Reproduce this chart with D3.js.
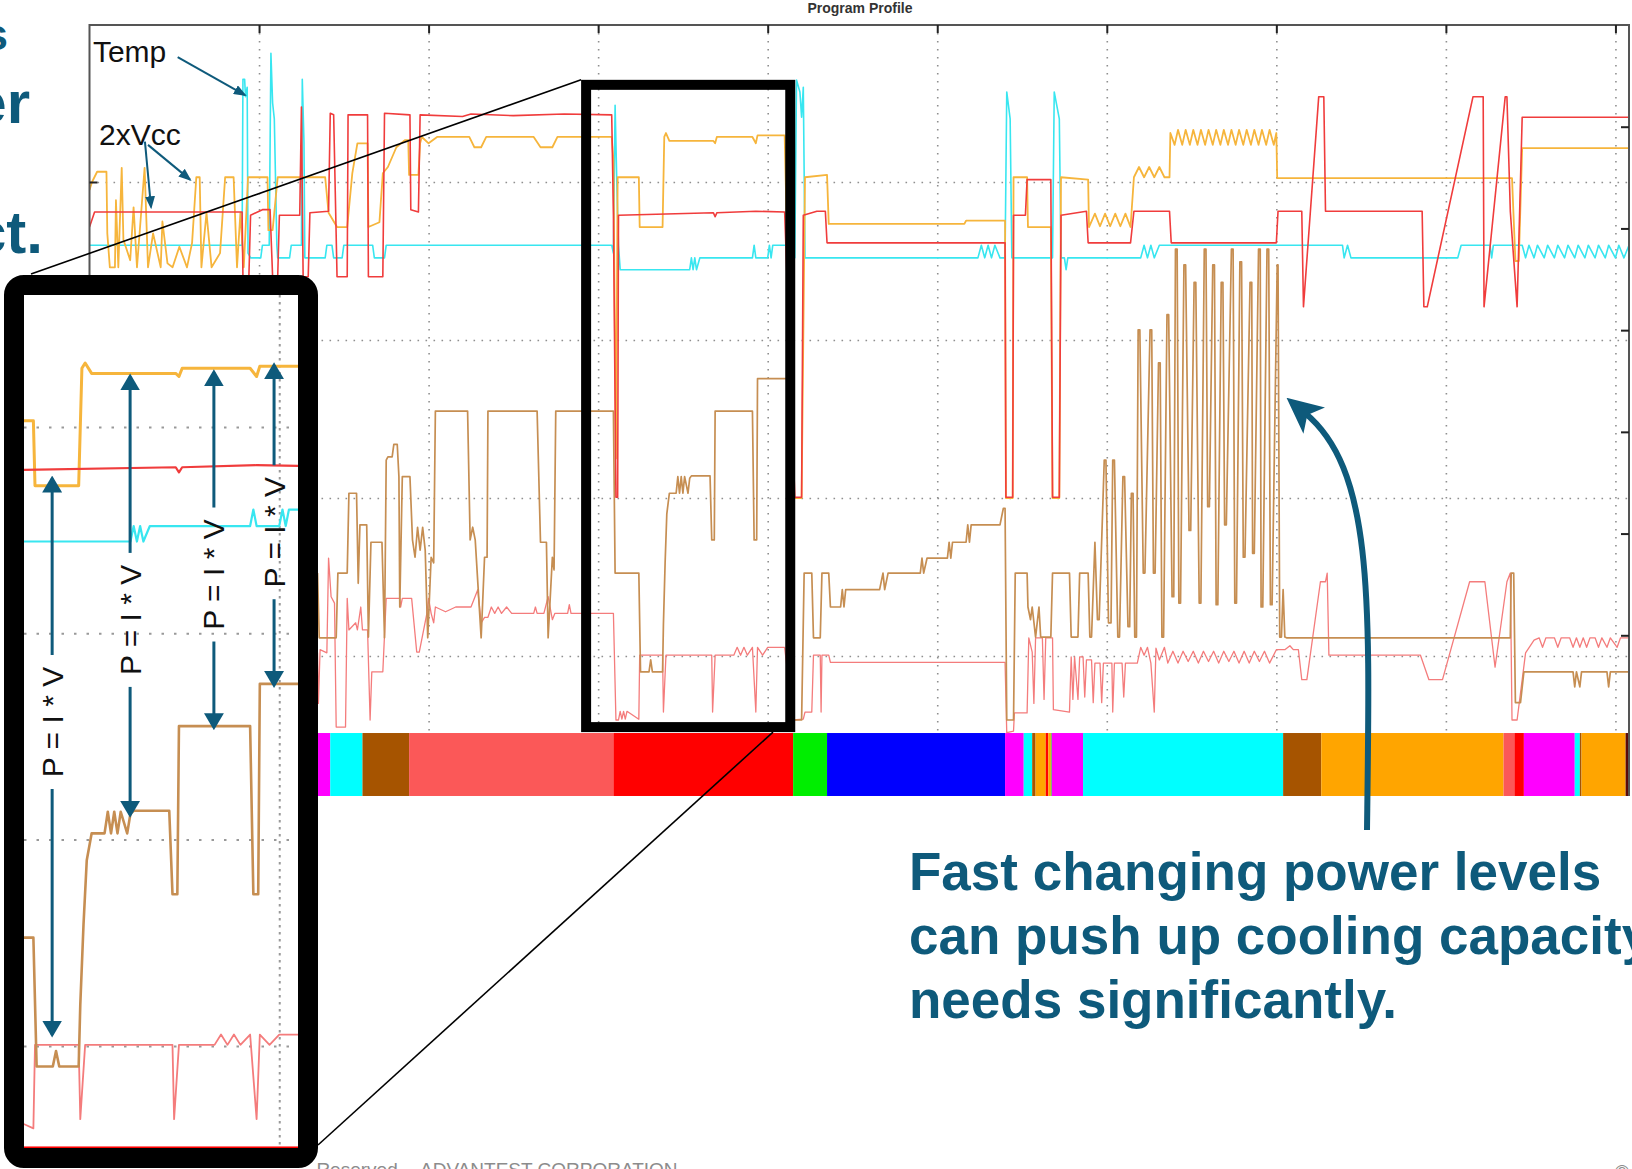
<!DOCTYPE html>
<html><head><meta charset="utf-8">
<script src="https://cdn.jsdelivr.net/npm/d3@7"></script>
<style>
html,body{margin:0;padding:0;background:#fff;overflow:hidden}
svg{display:block}
</style></head>
<body><svg id="chart" width="1632" height="1169"></svg>
<script>
// ---------------- DATA (x: time units, grid every 10; y: level units, grid every 20) ----------------
const xGrid = [10,20,30,40,50,60,70,80,90];
const yGrid = [20,40,60,80];
const rightTicks = [1,2,3,4,5,6];

// Temperature (cyan)
const tempSeries = [[0,72],[9.0,72],[9.05,93],[9.15,93],[9.2,90.8],[9.3,92],[9.35,71],[9.5,70.4],[10.1,70.4],[10.2,72],[10.6,72],[10.7,96.3],[10.8,90],[10.9,88],[11.05,72],[11.1,70.4],[11.8,70.4],[11.9,72],[12.5,72],[12.55,93],[12.65,85],[12.7,70.4],[13.9,70.4],[14.0,72],[14.3,72],[14.4,70.4],[14.9,70.4],[15.0,72],[16.7,72],[16.8,70.4],[17.4,70.4],[17.5,72],[30.8,72],[30.9,71],[31.0,89.7],[31.1,80],[31.2,72],[31.3,68.9],[35.4,68.9],[35.5,70.4],[35.6,68.9],[35.7,70.4],[35.8,68.9],[36.0,70.4],[39.1,70.4],[39.2,72],[39.3,70.4],[40.0,70.4],[40.1,72],[40.2,70.4],[40.3,72],[41.5,72],[41.6,70.4],[41.7,92.9],[41.9,91.4],[42.0,88.2],[42.1,92],[42.2,70.4],[52.4,70.4],[52.6,72],[52.8,70.4],[53.0,72],[53.2,70.4],[53.4,72],[53.7,70.4],[54.0,70.4],[54.1,91.4],[54.3,88],[54.4,70.4],[56.8,70.4],[56.9,91.4],[57.2,88],[57.3,70.4],[57.5,70.4],[57.6,68.9],[57.7,70.4],[62.0,70.4],[62.2,72],[62.4,70.4],[62.6,72],[62.8,70.4],[63.1,72],[73.9,72],[74.0,70.4],[74.2,72],[74.4,70.4],[80.7,70.4],[80.9,72],[82.6,72],[82.7,70.4],[82.8,72],[84.5,72],[84.7,70.4],[84.9,72],[85.2,70.4],[85.4,72],[85.8,70.4],[86.0,72],[86.4,70.4],[86.6,72],[87.0,70.4],[87.2,72],[87.6,70.4],[87.8,72],[88.2,70.4],[88.4,72],[88.8,70.4],[89.0,72],[89.4,70.4],[89.6,72],[90.0,70.4],[90.2,72],[90.5,70.4],[90.8,72]];

// 2xVcc supply A (orange)
const vccASeries = [[0,79],[0.15,80],[0.45,81.3],[1.0,81.3],[1.05,73.5],[1.2,69.2],[1.5,69.2],[1.56,77.7],[1.7,69.2],[1.9,81.8],[2.0,72.7],[2.4,70.1],[2.6,76.8],[2.8,69.2],[3.25,81.8],[3.45,69.2],[3.75,73.5],[4.2,69.2],[4.3,75],[4.6,69.7],[4.9,69.2],[5.3,71.8],[5.75,69.2],[6.05,72.3],[6.3,80.6],[6.5,80.6],[6.6,69.2],[6.9,76.1],[7.2,69.2],[7.7,71],[8.0,80.6],[8.5,80.6],[8.7,69.2],[8.9,76.1],[9.1,69.2],[9.35,80.6],[10.5,80.6],[10.55,73.9],[10.8,73.9],[11.1,80.6],[13.9,80.6],[14.1,76.1],[14.6,74.3],[15.2,74.3],[15.5,81.1],[15.8,84.9],[16.4,84.9],[16.45,74.3],[17.1,74.9],[17.3,81.1],[17.6,81.9],[18.1,84.4],[18.6,85.3],[18.8,85.3],[18.85,80.9],[19.4,80.9],[19.5,84.9],[19.6,85.7],[20.0,84.9],[20.5,85.7],[22.4,85.7],[22.7,84.4],[23.1,84.4],[23.4,85.7],[26.2,85.7],[26.6,84.4],[27.3,84.4],[27.6,85.7],[30.8,85.7],[30.9,82.8],[31.05,45],[31.15,80.6],[32.4,80.6],[32.45,74.3],[33.8,74.3],[33.9,85.7],[34.0,86.2],[34.2,85.2],[36.8,85.2],[36.9,84.9],[37.0,85.7],[39.1,85.7],[39.3,84.9],[39.4,85.9],[41.0,85.9],[41.5,40],[42.0,40],[42.2,80.6],[43.5,80.9],[43.6,74.7],[51.6,74.7],[51.7,75.1],[54.0,75.1],[54.05,40],[54.45,40],[54.5,80.6],[55.3,80.6],[55.35,74.3],[56.7,74.3],[56.8,40],[57.2,40],[57.3,80.6],[58.9,80.3],[58.95,74.3],[59.3,76],[59.6,74.4],[59.9,76],[60.2,74.4],[60.5,76],[60.8,74.4],[61.1,76],[61.4,74.3],[61.6,80.6],[61.9,81.9],[62.2,80.6],[62.5,81.9],[62.8,80.6],[63.1,81.9],[63.4,80.6],[63.7,80.6],[63.75,86.2],[64.0,84.7],[64.2,86.6],[64.45,84.7],[64.65,86.6],[64.9,84.7],[65.1,86.6],[65.35,84.7],[65.55,86.6],[65.8,84.7],[66.0,86.6],[66.25,84.7],[66.45,86.6],[66.7,84.7],[66.9,86.6],[67.15,84.7],[67.35,86.6],[67.6,84.7],[67.8,86.6],[68.05,84.7],[68.25,86.6],[68.5,84.7],[68.7,86.6],[68.95,84.7],[69.15,86.6],[69.4,84.7],[69.6,86.6],[69.85,84.7],[70.0,86.2],[70.05,80.5],[83.9,80.5],[84.1,70],[84.3,70],[84.5,84.3],[90.8,84.3]];

// 2xVcc supply B (red)
const vccBSeries = [[0,74.3],[0.3,76.2],[9.0,76.2],[9.05,68],[9.4,68],[9.5,75.8],[10.2,76.5],[10.65,76.5],[10.8,68],[11.1,68],[11.2,75.8],[12.4,75.8],[12.5,89.5],[12.6,68],[12.9,68],[13.0,76.1],[14.1,76.3],[14.2,88.7],[14.4,88.5],[14.6,68],[15.2,68],[15.25,88.5],[16.4,88.5],[16.45,68],[17.3,68],[17.4,88.7],[18.9,88.5],[18.95,76.5],[19.4,76.2],[19.5,88.5],[22.0,88.3],[22.5,88.6],[25.0,88.4],[28.0,88.6],[30.8,88.5],[30.9,76],[31.05,40.1],[31.15,40.1],[31.2,75.8],[36.8,76.1],[36.9,75.6],[37.0,76.1],[39.3,76.3],[41.0,76.2],[41.6,40.1],[42.0,40.1],[42.1,75.8],[42.9,76.3],[43.4,76.3],[43.5,72.3],[54.0,72.3],[54.05,40.1],[54.45,40.1],[54.5,75.8],[55.2,75.8],[55.3,80.3],[56.7,80.3],[56.8,40.1],[57.2,40.1],[57.3,75.8],[58.8,76.3],[58.9,72.3],[61.4,72.3],[61.6,76.3],[63.7,76.3],[63.8,72.3],[70.0,72.3],[70.1,76.3],[71.5,76.3],[71.6,64.2],[72.5,90.8],[72.8,90.8],[72.9,76.3],[78.6,76.3],[78.7,64.2],[78.9,64.2],[81.6,90.8],[82.2,90.8],[82.25,64.2],[83.5,90.8],[83.6,90.8],[83.8,76.3],[84.2,64.2],[84.5,88.2],[90.8,88.2]];

// Power (brown)
const powerSeries = [[13.45,30.5],[13.55,22.3],[14.55,22.3],[14.65,30.5],[15.2,30.5],[15.3,40.6],[15.75,40.6],[15.85,29.2],[15.95,36.6],[16.35,36.6],[16.45,22.4],[16.6,34.4],[17.25,34.4],[17.4,22.3],[17.5,44.8],[17.6,45.2],[17.85,45.2],[17.95,46.8],[18.15,46.8],[18.25,42.7],[18.3,26.2],[18.45,42.7],[18.9,42.7],[19.05,34.7],[19.2,32.5],[19.35,36.3],[19.5,33.4],[19.65,36.3],[19.8,33.4],[19.95,22.3],[20.15,32.5],[20.3,31.8],[20.4,51],[22.3,51],[22.45,34.7],[22.6,36.3],[22.75,34.7],[23.1,22.3],[23.3,32.5],[23.45,32.5],[23.5,51],[26.4,51],[26.6,34.4],[26.95,34.4],[27.05,22.3],[27.3,32.5],[27.4,30.9],[27.5,51],[30.9,51],[31.0,30.5],[32.4,30.5],[32.5,18],[33.0,18],[33.1,19.5],[33.2,18],[33.8,18],[33.85,24],[33.95,31.8],[34.05,38],[34.2,40.6],[34.6,40.6],[34.7,42.7],[34.8,40.6],[34.9,42.7],[35.0,40.6],[35.1,42.7],[35.3,40.6],[35.4,42.5],[35.5,42.8],[36.6,42.8],[36.7,34.7],[36.85,34.7],[36.9,51],[39.1,51],[39.2,34.7],[39.35,34.7],[39.4,55.1],[41.2,55.1],[41.5,11.9],[42.0,11.9],[42.15,30.5],[42.6,30.5],[42.7,22.3],[43.1,22.3],[43.2,30.5],[43.6,30.5],[43.7,26.2],[44.3,26.2],[44.4,28.4],[44.5,26.2],[44.6,28.4],[46.6,28.4],[46.8,30.5],[46.9,28.4],[47.1,30.5],[49.0,30.5],[49.1,32.4],[49.2,30.5],[49.4,32.4],[50.6,32.4],[50.7,34.4],[50.8,32.4],[50.9,34.4],[51.7,34.4],[51.8,36.6],[51.9,34.4],[52.0,36.6],[53.7,36.6],[53.9,38.7],[54.0,38.7],[54.1,11.9],[54.5,11.9],[54.6,30.5],[55.3,30.5],[55.35,26.2],[55.5,24.6],[55.6,26.2],[55.8,22.4],[56.0,26.2],[56.1,22.4],[56.7,22.4],[56.8,30.5],[57.8,30.5],[57.9,22.4],[58.3,22.4],[58.4,30.5],[58.9,30.5],[59.0,22.4],[59.1,22.4],[59.3,34.4],[59.45,24.6],[59.55,24.6],[59.85,44.8],[59.95,44.8],[60.1,24.2],[60.25,24.2],[60.35,44.8],[60.45,44.8],[60.65,22.4],[60.75,22.4],[60.95,42.7],[61.05,42.7],[61.25,23.7],[61.35,23.7],[61.45,40.6],[61.55,40.6],[61.65,22.4],[61.75,22.4],[61.85,61.3],[61.95,61.3],[62.15,30.5],[62.25,30.5],[62.55,61.3],[62.65,61.3],[62.75,30.5],[62.85,30.5],[63.05,57.1],[63.15,57.1],[63.25,22.4],[63.35,22.4],[63.55,63.2],[63.65,63.2],[63.85,27.5],[63.95,27.5],[64.05,71.5],[64.15,71.5],[64.25,26.7],[64.35,26.7],[64.55,69.5],[64.65,69.5],[64.85,35.9],[64.95,35.9],[65.15,67.3],[65.25,67.3],[65.45,26.7],[65.55,26.7],[65.75,71.5],[65.85,71.5],[65.95,38.9],[66.05,38.9],[66.25,69.5],[66.35,69.5],[66.45,26.5],[66.55,26.5],[66.75,67.3],[66.85,67.3],[66.95,36.6],[67.05,36.6],[67.35,71.5],[67.45,71.5],[67.55,26.7],[67.65,26.7],[67.85,69.9],[67.95,69.9],[68.05,32.5],[68.15,32.5],[68.45,67.3],[68.55,67.3],[68.6,33],[68.7,33],[68.95,71.5],[69.05,71.5],[69.1,26.2],[69.2,26.2],[69.45,71.5],[69.55,71.5],[69.65,26.5],[69.75,26.5],[70.05,69.5],[70.1,69.5],[70.2,22.4],[70.3,22.4],[70.4,28.4],[70.5,22.4],[70.6,22.3],[83.8,22.3],[83.85,30.5],[84.0,30.5],[84.1,14.1],[84.4,14.1],[84.6,18],[87.5,18],[87.6,16.1],[87.7,18],[87.9,16.1],[88.0,18],[89.5,18],[89.6,16.1],[89.7,18],[90.8,18]];

// Current (light red)
const currentSeries = [[12.4,20.4],[13.45,20.4],[13.5,14],[13.6,20.8],[14.0,20.4],[14.1,32.4],[14.25,27.5],[14.45,26.7],[14.55,11],[15.1,11],[15.2,27.3],[15.3,23.3],[15.7,24.2],[15.8,23.3],[16.0,26.2],[16.1,23.3],[16.4,23.3],[16.55,11.9],[16.65,18],[17.3,18],[17.5,27.3],[18.3,27.3],[18.35,26.2],[18.45,27.3],[19.0,27.3],[19.3,20.5],[19.45,20.5],[19.9,25.4],[20.0,27.3],[20.15,25.4],[20.3,24.2],[20.4,26.2],[21.0,25.6],[21.6,26.2],[22.5,26.2],[22.9,28.4],[23.1,24.2],[23.3,24.9],[23.5,24.9],[23.7,26.2],[23.9,25.4],[24.1,26.2],[24.3,25.4],[24.6,26.2],[24.9,25.4],[26.2,25.4],[26.3,26.2],[26.4,25.4],[26.8,25.4],[27.05,27.5],[27.3,24.6],[27.45,25.4],[28.2,25.4],[28.3,26.5],[28.4,25.4],[30.9,25.4],[31.05,11.9],[31.2,11.9],[31.3,13],[31.4,12],[31.5,13],[31.6,12],[31.7,13],[32.4,12],[32.45,20.1],[33.8,20.1],[33.85,12.9],[34.0,20.1],[36.7,20.1],[36.75,12.9],[36.9,20.1],[38.0,20.1],[38.2,21.1],[38.4,20.1],[38.6,21.1],[38.8,20.1],[39.1,21.1],[39.3,12.9],[39.4,21.1],[39.7,20.1],[40.0,21.1],[41.0,21.1],[41.5,11.9],[42.1,12],[42.2,12.9],[42.6,12.9],[42.7,20.1],[43.1,20.1],[43.15,12.9],[43.2,20.1],[43.6,20.1],[43.7,19.2],[54.0,19.2],[54.1,10.3],[54.5,10.5],[54.55,12.8],[55.3,12.8],[55.4,22.3],[55.6,20.5],[55.7,14],[55.8,22.3],[56.2,22.3],[56.3,14.5],[56.4,22.3],[56.8,22.3],[56.85,13.2],[57.8,12.9],[57.9,19.9],[58.0,14.5],[58.1,19.9],[58.3,14.5],[58.4,19.9],[58.6,19.9],[58.7,14.8],[58.8,19.5],[59.1,19.5],[59.2,14.1],[59.3,19.1],[59.6,19.1],[59.7,14.1],[59.8,19.1],[60.3,19.1],[60.35,12.9],[60.45,19.1],[60.9,19.1],[61.0,14.8],[61.1,19.1],[61.8,19.1],[62.0,21.1],[62.2,20.1],[62.4,21.1],[62.6,19.1],[62.8,12.9],[62.9,21],[63.1,19.5],[63.4,21.1],[63.6,19.1],[63.9,20.6],[64.2,19.1],[64.5,20.6],[64.8,19.3],[65.1,20.6],[65.4,19.1],[65.7,20.6],[66.0,19.3],[66.3,20.6],[66.6,19.1],[66.9,20.6],[67.2,19.3],[67.5,20.6],[67.8,19.1],[68.1,20.6],[68.4,19.1],[68.7,20.6],[69.0,19.3],[69.3,20.6],[69.6,19.1],[70.0,20.8],[70.5,20.8],[70.8,21.3],[71.0,20.8],[71.3,20.8],[71.5,17],[71.8,17],[72.6,29.4],[72.9,29.4],[73.0,30.5],[73.1,20.1],[78.5,20.1],[79.0,17],[79.8,17],[81.4,29.4],[82.3,29.4],[82.9,18.6],[83.6,29.4],[83.8,30.5],[83.9,11.9],[84.2,11.9],[84.7,20.4],[85.2,22],[85.5,22.3],[85.7,21.1],[85.9,22.3],[86.4,22.3],[86.6,21.1],[86.8,22.3],[87.3,22.3],[87.5,21.1],[87.7,22.3],[87.9,21.1],[88.1,22.3],[88.3,21.1],[88.5,22.3],[88.8,22.3],[89.0,21.1],[89.2,22.3],[89.5,21.1],[89.7,22.3],[90.1,21.1],[90.3,22.3],[90.8,22.3]];

// Test-block strip: [start, end, block kind]
const barSegments = [[0,14.2,'magenta'],[14.2,16.1,'cyan'],[16.1,18.85,'brown'],[18.85,30.9,'salmon'],[30.9,41.5,'red'],[41.5,43.5,'green'],[43.5,54.0,'blue'],[54.0,55.1,'magenta'],[55.1,55.6,'cyan'],[55.6,55.8,'brown'],[55.8,56.4,'orange'],[56.4,56.55,'red'],[56.55,56.7,'orange'],[56.7,56.75,'green'],[56.75,58.6,'magenta'],[58.6,70.4,'cyan'],[70.4,72.65,'brown'],[72.65,83.4,'orange'],[83.4,84.04,'salmon'],[84.04,84.6,'red'],[84.6,87.6,'magenta'],[87.6,87.9,'cyan'],[87.9,88.0,'brown'],[88.0,90.6,'orange'],[90.6,90.8,'dark']];
const barBand = [2.28, 10.25];

// Zoom window annotation (data units) and inset domain
const zoomBox = [29.29, 41.33, 11.0, 92.3];
const insetXDomain = [32.11, 40.58];
const insetYDomain = [10.1, 92.8];

// P = I * V annotations inside the inset
const pivX = [32.98, 35.39, 37.98, 39.84];
const pivTop = [75.0, 84.9, 85.3, 86.0];
const pivBottom = [21.1, 42.4, 50.9, 55.0];
const pivLabelY = [51.4, 61.3, 65.7, 69.8];

// Temp / 2xVcc callouts (data units)
const tempLabelAt = [0.2, 95.2];
const tempArrow = [[5.2, 95.8], [9.17, 91.0]];
const vccLabelAt = [0.56, 84.7];
const vccArrows = [[[3.27, 85.1], [3.63, 76.8]], [[3.45, 84.7], [5.93, 80.3]]];

// ---------------- RENDER ----------------
const FONT = "'Liberation Sans', Arial, Helvetica, sans-serif";
const TEAL = '#0e5a7b';
const blockColor = {magenta:'#ff00ff', cyan:'#00ffff', brown:'#a65400', salmon:'#fb5858', red:'#ff0000', green:'#00ee00', blue:'#0000ff', orange:'#ffa500', dark:'#5a0a0a'};

const svg = d3.select('#chart');
svg.append('rect').attr('width',1632).attr('height',1169).attr('fill','#fff');
const defs = svg.append('defs');
const PL = 89.5, PR = 1629, PT = 25;
const x = d3.scaleLinear().domain([0, 90.8]).range([PL, PR]);
const y = d3.scaleLinear().domain([0, 100]).range([814, 24]);
const yR = d3.scaleLinear().domain([0, 7]).range([737, 25]);
const barTopPx = y(barBand[1]), barBotPx = y(barBand[0]);

defs.append('clipPath').attr('id','plotClip').append('rect')
  .attr('x',PL).attr('y',PT).attr('width',PR-PL).attr('height',barTopPx-PT+1);
defs.append('clipPath').attr('id','insetClip').append('rect')
  .attr('x',24).attr('y',295).attr('width',274).attr('height',853);

function addMarker(id, vb, d, refX, w, h){
  defs.append('marker').attr('id',id).attr('viewBox',vb).attr('refX',refX).attr('refY',0)
    .attr('markerWidth',w).attr('markerHeight',h).attr('markerUnits','userSpaceOnUse')
    .attr('orient','auto-start-reverse')
    .append('path').attr('d',d).attr('fill',TEAL);
}
addMarker('hSm','0 -5 13 10','M0,-5L13,0L0,5Z',11,13,10);
addMarker('hMd','0 -10 17 20','M0,-10L17,0L0,10Z',14,17,20);
addMarker('hLg','0 -17 36 34','M0,-17L36,0L0,17L9,0Z',12,36,34);

// Title
svg.append('text').attr('x',860).attr('y',13).attr('text-anchor','middle')
  .attr('font-family',FONT).attr('font-weight','bold').attr('font-size',14).attr('fill','#333')
  .text('Program Profile');

// Grid
const dotted = g => g.selectAll('line').attr('stroke','#8f8f8f').attr('stroke-width',1.6).attr('stroke-dasharray','1.6,6.4');
svg.append('g').attr('transform',`translate(0,${PT})`)
  .call(d3.axisBottom(x).tickValues(xGrid).tickSize(barTopPx-PT).tickFormat(''))
  .call(g=>g.select('.domain').remove()).call(dotted);
svg.append('g').attr('transform',`translate(${PL},0)`)
  .call(d3.axisRight(y).tickValues(yGrid).tickSize(PR-PL).tickFormat(''))
  .call(g=>g.select('.domain').remove()).call(dotted);

// Test-block strip
svg.append('g').selectAll('rect').data(barSegments).join('rect')
  .attr('x',d=>x(d[0])).attr('width',d=>Math.max(0.8,x(d[1])-x(d[0])))
  .attr('y',barTopPx).attr('height',barBotPx-barTopPx)
  .attr('fill',d=>blockColor[d[2]]);

// Traces
const seriesDefs = [
  {data: currentSeries, color:'#f47c7c', w:1.3, wi:1.8},
  {data: powerSeries,   color:'#c68e52', w:1.7, wi:2.6},
  {data: tempSeries,    color:'#38e6f0', w:1.6, wi:2.2},
  {data: vccASeries,    color:'#f6b53c', w:1.8, wi:3.0},
  {data: vccBSeries,    color:'#f03c3c', w:1.6, wi:2.2}
];
const line = d3.line().x(d=>x(d[0])).y(d=>y(d[1]));
const gTr = svg.append('g').attr('clip-path','url(#plotClip)');
seriesDefs.forEach(s => gTr.append('path').attr('d', line(s.data)).attr('fill','none')
  .attr('stroke', s.color).attr('stroke-width', s.w).attr('stroke-linejoin','round'));

// Frame and ticks
svg.append('path').attr('d',`M${PL},${barBotPx}V${PT}H${PR}V${barBotPx}`)
  .attr('fill','none').attr('stroke','#555').attr('stroke-width',2);
const solidTicks = g => { g.select('.domain').remove(); g.selectAll('line').attr('stroke','#222').attr('stroke-width',2); };
svg.append('g').attr('transform',`translate(0,${PT})`)
  .call(d3.axisBottom(x).tickValues(xGrid).tickSize(8).tickFormat('')).call(solidTicks);
svg.append('g').attr('transform',`translate(${PL},0)`)
  .call(d3.axisRight(y).tickValues(yGrid).tickSize(8).tickFormat('')).call(solidTicks);
svg.append('g').attr('transform',`translate(${PR},0)`)
  .call(d3.axisLeft(yR).tickValues(rightTicks).tickSize(8).tickFormat('')).call(solidTicks);

// Callouts Temp / 2xVcc
svg.append('text').attr('x',x(tempLabelAt[0])).attr('y',y(tempLabelAt[1]))
  .attr('font-family',FONT).attr('font-size',30).attr('fill','#111').text('Temp');
svg.append('text').attr('x',x(vccLabelAt[0])).attr('y',y(vccLabelAt[1]))
  .attr('font-family',FONT).attr('font-size',30).attr('fill','#111').text('2xVcc');
[tempArrow, ...vccArrows].forEach(a => svg.append('line')
  .attr('x1',x(a[0][0])).attr('y1',y(a[0][1])).attr('x2',x(a[1][0])).attr('y2',y(a[1][1]))
  .attr('stroke',TEAL).attr('stroke-width',2).attr('marker-end','url(#hSm)'));

// Zoom box
svg.append('rect').attr('x',x(zoomBox[0])).attr('y',y(zoomBox[3]))
  .attr('width',x(zoomBox[1])-x(zoomBox[0])).attr('height',y(zoomBox[2])-y(zoomBox[3]))
  .attr('fill','none').attr('stroke','#000').attr('stroke-width',10);

// Connector lines
svg.append('line').attr('x1',31).attr('y1',274).attr('x2',x(zoomBox[0])-5).attr('y2',y(zoomBox[3])-5)
  .attr('stroke','#000').attr('stroke-width',1.6);
svg.append('line').attr('x1',318).attr('y1',1145).attr('x2',773).attr('y2',y(zoomBox[2])+5)
  .attr('stroke','#000').attr('stroke-width',1.6);

// Footer (cut by page bottom, as in the slide)
svg.append('text').attr('x',403).attr('y',1176).attr('text-anchor','end')
  .attr('font-family',FONT).attr('font-size',19).attr('fill','#8c8c8c').text('Reserved.');
svg.append('text').attr('x',420).attr('y',1176)
  .attr('font-family',FONT).attr('font-size',19).attr('fill','#8c8c8c').text('ADVANTEST CORPORATION');
svg.append('text').attr('x',1615).attr('y',1178)
  .attr('font-family',FONT).attr('font-size',19).attr('fill','#8c8c8c').text('©');

// Inset (magnified view)
const xi = d3.scaleLinear().domain(insetXDomain).range([24, 298]);
const yi = d3.scaleLinear().domain(insetYDomain).range([1148, 295]);
const gIn = svg.append('g');
gIn.append('rect').attr('x',24).attr('y',295).attr('width',274).attr('height',853).attr('fill','#fff');
const gInC = gIn.append('g').attr('clip-path','url(#insetClip)');
gInC.append('g').attr('transform','translate(24,0)')
  .call(d3.axisRight(yi).tickValues(yGrid).tickSize(274).tickFormat(''))
  .call(g=>g.select('.domain').remove())
  .call(g=>g.selectAll('line').attr('stroke','#999').attr('stroke-width',2).attr('stroke-dasharray','2.5,10'));
gInC.append('g').attr('transform','translate(0,295)')
  .call(d3.axisBottom(xi).tickValues(xGrid.filter(v=>v>insetXDomain[0]&&v<insetXDomain[1])).tickSize(yi(barBand[1])-295).tickFormat(''))
  .call(g=>g.select('.domain').remove())
  .call(g=>g.selectAll('line').attr('stroke','#999').attr('stroke-width',2).attr('stroke-dasharray','2.5,4.5'));
gInC.append('g').selectAll('rect').data(barSegments).join('rect')
  .attr('x',d=>xi(d[0])).attr('width',d=>xi(d[1])-xi(d[0]))
  .attr('y',yi(barBand[1])).attr('height',yi(barBand[0])-yi(barBand[1]))
  .attr('fill',d=>blockColor[d[2]]);
const lineI = d3.line().x(d=>xi(d[0])).y(d=>yi(d[1]));
seriesDefs.forEach(s => gInC.append('path').attr('d', lineI(s.data)).attr('fill','none')
  .attr('stroke', s.color).attr('stroke-width', s.wi).attr('stroke-linejoin','round'));
gIn.append('rect').attr('x',14).attr('y',285).attr('width',294).attr('height',873).attr('rx',10)
  .attr('fill','none').attr('stroke','#000').attr('stroke-width',20);

// P = I * V arrows
pivX.forEach((px, i) => {
  const cx = xi(px), cy = yi(pivLabelY[i]), gap = 67;
  gIn.append('line').attr('x1',cx).attr('y1',cy-gap).attr('x2',cx).attr('y2',yi(pivTop[i]))
    .attr('stroke',TEAL).attr('stroke-width',3).attr('marker-end','url(#hMd)');
  gIn.append('line').attr('x1',cx).attr('y1',cy+gap).attr('x2',cx).attr('y2',yi(pivBottom[i]))
    .attr('stroke',TEAL).attr('stroke-width',3).attr('marker-end','url(#hMd)');
  gIn.append('text').attr('transform',`translate(${cx+10.5},${cy}) rotate(-90)`)
    .attr('text-anchor','middle').attr('font-family',FONT).attr('font-size',30).attr('fill','#111')
    .text('P = I * V');
});

// Left-edge slide text fragments
[['s',8,50,44],['er',30,123,60],['ct.',43,253,60]].forEach(t => svg.append('text')
  .attr('x',t[1]).attr('y',t[2]).attr('text-anchor','end').attr('font-family',FONT)
  .attr('font-weight','bold').attr('font-size',t[3]).attr('fill',TEAL).text(t[0]));

// Big message text
['Fast changing power levels','can push up cooling capacity','needs significantly.'].forEach((s,i) =>
  svg.append('text').attr('x',909).attr('y',890+i*64).attr('font-family',FONT)
    .attr('font-weight','bold').attr('font-size',53).attr('fill',TEAL).text(s));

// Curved arrow
svg.append('path').attr('d','M1367,830 C1370,600 1374,470 1305,413')
  .attr('fill','none').attr('stroke',TEAL).attr('stroke-width',6).attr('marker-end','url(#hLg)');
</script>
</body></html>
